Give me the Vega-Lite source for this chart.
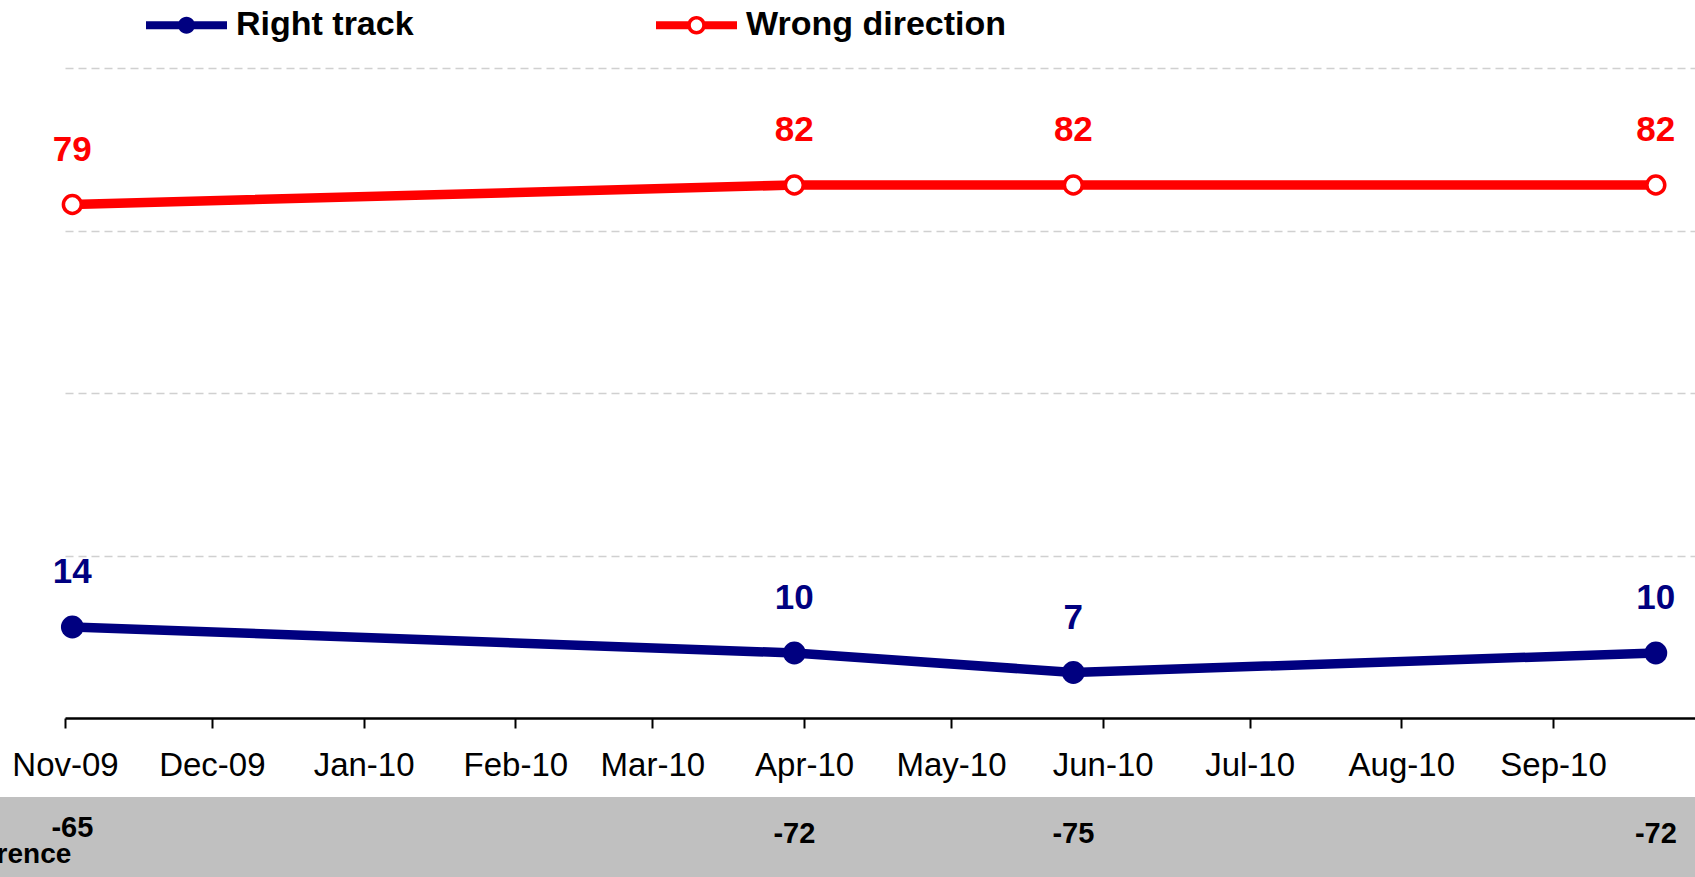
{
  "$schema": "https://vega.github.io/schema/vega-lite/v6.json",
  "width": 1630,
  "height": 650,
  "autosize": {"type": "none"},
  "padding": {"left": 65, "top": 68, "right": 0, "bottom": 159},
  "background": "white",
  "config": {"view": {"stroke": null}, "font": "Liberation Sans"},
  "datasets": {
    "polls": [
      {"date": "2009-11-02T12:00:00Z", "series": "Right track", "value": 14},
      {"date": "2010-03-30T00:00:00Z", "series": "Right track", "value": 10},
      {"date": "2010-05-26T00:00:00Z", "series": "Right track", "value": 7},
      {"date": "2010-09-22T00:00:00Z", "series": "Right track", "value": 10},
      {"date": "2009-11-02T12:00:00Z", "series": "Wrong direction", "value": 79},
      {"date": "2010-03-30T00:00:00Z", "series": "Wrong direction", "value": 82},
      {"date": "2010-05-26T00:00:00Z", "series": "Wrong direction", "value": 82},
      {"date": "2010-09-22T00:00:00Z", "series": "Wrong direction", "value": 82}
    ],
    "diff": [
      {"date": "2009-11-02T12:00:00Z", "diff": -65},
      {"date": "2010-03-30T00:00:00Z", "diff": -72},
      {"date": "2010-05-26T00:00:00Z", "diff": -75},
      {"date": "2010-09-22T00:00:00Z", "diff": -72}
    ]
  },
  "layer": [
    {
      "data": {"values": [{}]},
      "mark": {"type": "rect", "color": "#C0C0C0"},
      "encoding": {
        "x": {
          "datum": {"year": 2009, "month": 10, "date": 1, "utc": true},
          "type": "temporal",
          "scale": {
            "type": "utc",
            "domain": [
              {"year": 2009, "month": 11, "date": 1, "utc": true},
              {"year": 2010, "month": 9, "date": 30, "utc": true}
            ]
          },
          "axis": {
            "title": null,
            "format": "%b-%y",
            "tickCount": {"interval": "month", "step": 1},
            "grid": false,
            "domainColor": "black",
            "domainWidth": 2.5,
            "tickColor": "black",
            "tickWidth": 2,
            "tickSize": 10,
            "labelFont": "Liberation Sans",
            "labelFontSize": 33,
            "labelColor": "black",
            "labelPadding": 21,
            "labelFlush": false,
            "labelOverlap": false
          }
        },
        "x2": {"datum": {"year": 2010, "month": 11, "date": 1, "utc": true}},
        "y": {
          "datum": -12.15,
          "type": "quantitative",
          "scale": {"domain": [0, 100], "nice": false, "zero": false},
          "axis": {
            "title": null,
            "values": [25, 50, 75, 100],
            "grid": true,
            "gridColor": "#d0d0d0",
            "gridDash": [8, 5],
            "gridWidth": 1.5,
            "labels": false,
            "ticks": false,
            "domain": false
          }
        },
        "y2": {"datum": -26}
      }
    },
    {
      "data": {"name": "polls"},
      "mark": {"type": "line", "strokeWidth": 9.5},
      "encoding": {
        "x": {"field": "date", "type": "temporal"},
        "y": {"field": "value", "type": "quantitative"},
        "color": {
          "field": "series",
          "type": "nominal",
          "scale": {"domain": ["Right track", "Wrong direction"], "range": ["#000080", "#FF0000"]},
          "legend": {
            "orient": "none",
            "legendX": 81,
            "legendY": -83.5,
            "direction": "horizontal",
            "title": null,
            "padding": 0,
            "symbolSize": 6561,
            "symbolStrokeWidth": 0,
            "labelFont": "Liberation Sans",
            "labelFontSize": 34,
            "labelFontWeight": "bold",
            "labelColor": "black",
            "labelOffset": 9,
            "labelLimit": 500,
            "columnPadding": 242,
            "encode": {
              "symbols": {
                "update": {
                  "shape": {"signal": "datum.value === 'Right track' ? 'M-1,-0.1H1V0.1H-1Z M0,-0.21A0.21,0.21 0 1,1 0,0.21A0.21,0.21 0 1,1 0,-0.21Z' : 'M-1,-0.1H-0.18V0.1H-1Z M0.18,-0.1H1V0.1H0.18Z M0,-0.23A0.23,0.23 0 1,1 0,0.23A0.23,0.23 0 1,1 0,-0.23Z M0,-0.14A0.14,0.14 0 1,0 0,0.14A0.14,0.14 0 1,0 0,-0.14Z'"},
                  "fill": {"signal": "datum.value === 'Right track' ? '#000080' : '#FF0000'"},
                  "stroke": {"value": "transparent"},
                  "strokeWidth": {"value": 0},
                  "opacity": {"value": 1},
                  "fillOpacity": {"value": 1}
                }
              }
            }
          }
        }
      }
    },
    {
      "data": {"name": "polls"},
      "transform": [{"filter": "datum.series === 'Right track'"}],
      "mark": {"type": "circle", "size": 520, "color": "#000080", "opacity": 1},
      "encoding": {
        "x": {"field": "date", "type": "temporal"},
        "y": {"field": "value", "type": "quantitative"}
      }
    },
    {
      "data": {"name": "polls"},
      "transform": [{"filter": "datum.series === 'Wrong direction'"}],
      "mark": {"type": "point", "shape": "circle", "size": 320, "filled": true, "fill": "white", "stroke": "#FF0000", "strokeWidth": 3.5, "opacity": 1},
      "encoding": {
        "x": {"field": "date", "type": "temporal"},
        "y": {"field": "value", "type": "quantitative"}
      }
    },
    {
      "data": {"name": "polls"},
      "mark": {"type": "text", "fontSize": 35, "fontWeight": "bold", "dy": -55, "baseline": "middle", "align": "center"},
      "encoding": {
        "x": {"field": "date", "type": "temporal"},
        "y": {"field": "value", "type": "quantitative"},
        "text": {"field": "value", "type": "nominal"},
        "color": {"field": "series", "type": "nominal"}
      }
    },
    {
      "data": {"name": "diff"},
      "transform": [{"filter": "datum.diff != -65"}],
      "mark": {"type": "text", "fontSize": 29, "fontWeight": "bold", "color": "black", "baseline": "middle", "align": "center"},
      "encoding": {
        "x": {"field": "date", "type": "temporal"},
        "y": {"datum": -17.85},
        "text": {"field": "diff", "type": "nominal"}
      }
    },
    {
      "data": {"name": "diff"},
      "transform": [{"filter": "datum.diff == -65"}],
      "mark": {"type": "text", "fontSize": 29, "fontWeight": "bold", "color": "black", "baseline": "middle", "align": "center"},
      "encoding": {
        "x": {"field": "date", "type": "temporal"},
        "y": {"datum": -16.9},
        "text": {"field": "diff", "type": "nominal"}
      }
    },
    {
      "data": {"values": [{}]},
      "mark": {"type": "text", "text": "Net difference", "fontSize": 28, "fontWeight": "bold", "color": "black", "baseline": "middle", "align": "right", "dx": -1},
      "encoding": {
        "x": {"datum": {"year": 2009, "month": 11, "date": 2, "hours": 12, "utc": true}, "type": "temporal"},
        "y": {"datum": -21.1}
      }
    }
  ]
}
